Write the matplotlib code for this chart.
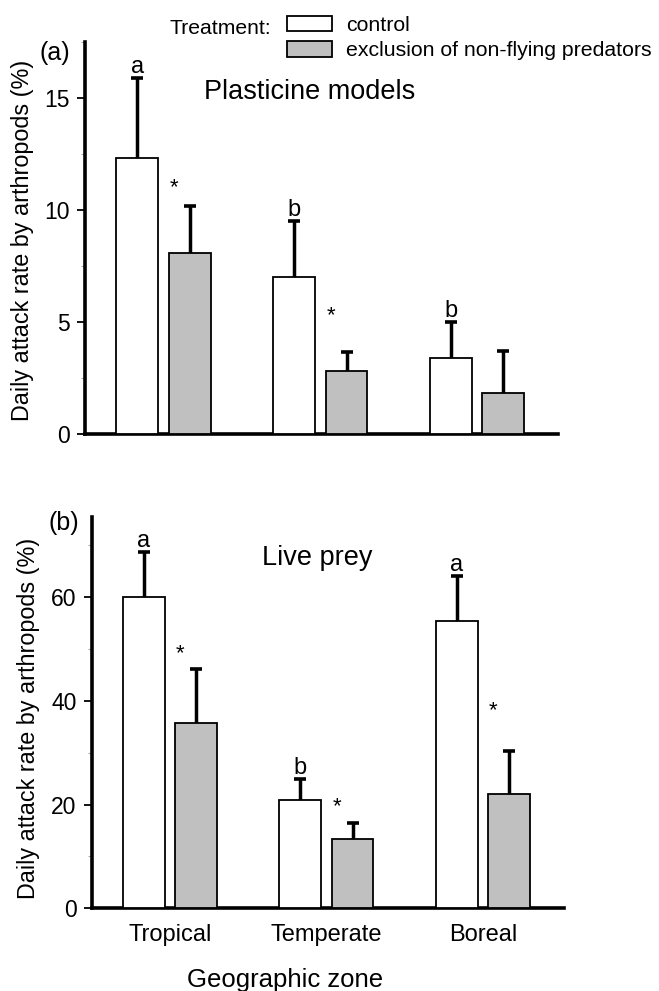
import matplotlib
matplotlib.use("Agg")
import matplotlib.pyplot as plt
from matplotlib.patches import Patch
from matplotlib.ticker import MultipleLocator
import numpy as np

plt.rcParams['font.family'] = ['Liberation Sans', 'DejaVu Sans']

zones = ["Tropical", "Temperate", "Boreal"]
series_names = ["control", "exclusion of non-flying predators"]

# Panel (a): plasticine models
a_control = [12.3, 7.0, 3.4]
a_control_err = [3.6, 2.5, 1.6]
a_excl = [8.1, 2.8, 1.86]
a_excl_err = [2.1, 0.85, 1.86]
a_letters = ["a", "b", "b"]
a_star_y = [11.0, 5.3, None]

# Panel (b): live prey
b_control = [60.0, 20.9, 55.4]
b_control_err = [8.7, 4.0, 8.6]
b_excl = [35.8, 13.3, 22.0]
b_excl_err = [10.4, 3.2, 8.4]
b_letters = ["a", "b", "a"]
b_star_y = [49.0, 19.5, 38.0]

GRAY = "#c0c0c0"
fig = plt.figure(figsize=(6.59, 9.91), dpi=100)

ax1 = fig.add_axes([0.1290, 0.5618, 0.7178, 0.3959])
ax2 = fig.add_axes([0.1392, 0.0834, 0.7159, 0.3949])

bw = 0.267
off = 0.167


def panel(ax, ctrl, cerr, excl, eerr, letters, stars, ylim, major, minor, title, tx, ty):
    x = np.arange(len(zones))
    ax.bar(x - off, ctrl, bw, color="white", edgecolor="black", linewidth=1.3, zorder=3)
    ax.bar(x + off, excl, bw, color=GRAY, edgecolor="black", linewidth=1.3, zorder=3)
    for xs, vals, errs in ((x - off, ctrl, cerr), (x + off, excl, eerr)):
        yerr = np.array([np.zeros(len(vals)), errs])
        _, caps, _ = ax.errorbar(xs, vals, yerr=yerr, fmt="none", ecolor="black",
                                 elinewidth=2.5, capsize=4.4, capthick=2.6, zorder=2)
        caps[0].set_visible(False)
    for i in range(len(zones)):
        top = ctrl[i] + cerr[i]
        ax.annotate(letters[i], (x[i] - off, top), xytext=(0, 3.5), textcoords="offset points",
                    ha="center", va="baseline", fontsize=17)
        if stars[i] is not None:
            ax.text(x[i] + 0.065, stars[i], "*", ha="center", va="center", fontsize=16)
    ax.set_xlim(-0.5, 2.515)
    ax.set_ylim(*ylim)
    ax.yaxis.set_major_locator(MultipleLocator(major))
    ax.yaxis.set_minor_locator(MultipleLocator(minor))
    for s in ("top", "right"):
        ax.spines[s].set_visible(False)
    for s in ("left", "bottom"):
        ax.spines[s].set_linewidth(2.6)
    ax.tick_params(axis="y", which="major", direction="out", length=5.8, width=1.3,
                   labelsize=16.5, pad=5)
    ax.tick_params(axis="y", which="minor", direction="out", length=3, width=0.8, color="#aaaaaa")
    ax.tick_params(axis="x", length=0, labelsize=17, pad=11)
    ax.set_xticks(x)
    ax.text(tx, ty, title, transform=ax.transAxes, ha="center", va="center", fontsize=19.5)


panel(ax1, a_control, a_control_err, a_excl, a_excl_err, a_letters, a_star_y,
      (0, 17.5), 5, 2.5, "Plasticine models", 0.474, 0.872)
ax1.set_xticklabels([])
panel(ax2, b_control, b_control_err, b_excl, b_excl_err, b_letters, b_star_y,
      (0, 75.4), 20, 10, "Live prey", 0.479, 0.895)
ax2.set_xticklabels(zones)

ylab = "Daily attack rate by arthropods (%)"
fig.text(23 / 659, 1 - 240 / 991, ylab, rotation=90, ha="center", va="center", fontsize=16.8)
fig.text(29 / 659, 1 - 718 / 991, ylab, rotation=90, ha="center", va="center", fontsize=16.8)
fig.text(55 / 659, 1 - 53 / 991, "(a)", ha="center", va="center", fontsize=18)
fig.text(64 / 659, 1 - 523 / 991, "(b)", ha="center", va="center", fontsize=18)
fig.text(285 / 659, 1 - 980 / 991, "Geographic zone", ha="center", va="center", fontsize=18.5)
fig.text(220 / 659, 1 - 28 / 991, "Treatment:", ha="center", va="center", fontsize=15.2)

handles = [Patch(facecolor="white", edgecolor="black", linewidth=1.3),
           Patch(facecolor=GRAY, edgecolor="black", linewidth=1.3)]
fig.legend(handles, series_names, loc="upper left", bbox_to_anchor=(287 / 659, 1 - 16 / 991),
           frameon=False, fontsize=15.3, handlelength=2.12, handleheight=0.72,
           handletextpad=0.65, labelspacing=0.3, borderpad=0, borderaxespad=0)

fig.savefig("out.png", dpi=100)
